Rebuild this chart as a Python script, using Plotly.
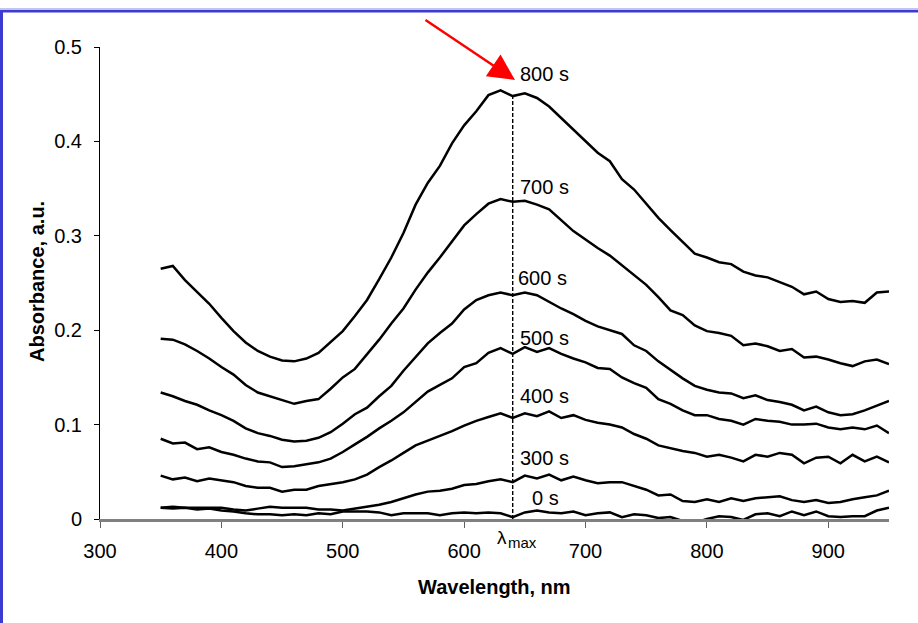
import plotly.graph_objects as go

# ---------------- data ----------------
WAVELENGTH = [350, 360, 370, 380, 390, 400, 410, 420, 430, 440,
              450, 460, 470, 480, 490, 500, 510, 520, 530, 540,
              550, 560, 570, 580, 590, 600, 610, 620, 630, 640,
              650, 660, 670, 680, 690, 700, 710, 720, 730, 740,
              750, 760, 770, 780, 790, 800, 810, 820, 830, 840,
              850, 860, 870, 880, 890, 900, 910, 920, 930, 940,
              950]

ABS_0S = [0.012, 0.011, 0.012, 0.010, 0.011, 0.009, 0.008, 0.006, 0.005, 0.005,
          0.004, 0.005, 0.004, 0.006, 0.005, 0.008, 0.008, 0.008, 0.007, 0.004,
          0.006, 0.006, 0.006, 0.004, 0.006, 0.007, 0.006, 0.007, 0.006, 0.002,
          0.007, 0.009, 0.007, 0.006, 0.008, 0.004, 0.006, 0.007, 0.002, 0.005,
          0.004, 0.001, 0.002, -0.002, -0.004, 0.000, 0.003, 0.002, -0.001, 0.005,
          0.006, 0.003, 0.008, 0.004, 0.008, 0.003, 0.002, 0.003, 0.003, 0.009,
          0.012]

ABS_300S = [0.012, 0.013, 0.012, 0.012, 0.012, 0.012, 0.010, 0.009, 0.011, 0.013,
            0.012, 0.012, 0.012, 0.010, 0.010, 0.009, 0.011, 0.013, 0.015, 0.018,
            0.022, 0.026, 0.029, 0.030, 0.032, 0.036, 0.037, 0.040, 0.042, 0.039,
            0.046, 0.043, 0.047, 0.041, 0.045, 0.041, 0.038, 0.039, 0.039, 0.035,
            0.031, 0.025, 0.026, 0.019, 0.018, 0.021, 0.018, 0.022, 0.019, 0.022,
            0.023, 0.024, 0.020, 0.018, 0.020, 0.017, 0.018, 0.021, 0.023, 0.025,
            0.030]

ABS_400S = [0.046, 0.042, 0.044, 0.040, 0.043, 0.041, 0.039, 0.035, 0.033, 0.033,
            0.029, 0.031, 0.031, 0.035, 0.037, 0.039, 0.042, 0.047, 0.055, 0.062,
            0.070, 0.078, 0.083, 0.088, 0.093, 0.099, 0.104, 0.108, 0.112, 0.107,
            0.112, 0.109, 0.114, 0.107, 0.110, 0.105, 0.102, 0.100, 0.097, 0.090,
            0.085, 0.078, 0.075, 0.072, 0.070, 0.066, 0.068, 0.065, 0.061, 0.068,
            0.066, 0.070, 0.068, 0.059, 0.065, 0.066, 0.059, 0.068, 0.061, 0.066,
            0.060]

ABS_500S = [0.085, 0.080, 0.081, 0.074, 0.076, 0.071, 0.068, 0.064, 0.061, 0.060,
            0.055, 0.056, 0.058, 0.060, 0.064, 0.071, 0.079, 0.087, 0.096, 0.104,
            0.113, 0.124, 0.135, 0.142, 0.149, 0.161, 0.165, 0.176, 0.181, 0.175,
            0.182, 0.177, 0.181, 0.175, 0.170, 0.166, 0.160, 0.159, 0.150, 0.144,
            0.139, 0.127, 0.122, 0.115, 0.110, 0.110, 0.106, 0.104, 0.100, 0.106,
            0.104, 0.103, 0.100, 0.100, 0.101, 0.097, 0.095, 0.097, 0.095, 0.099,
            0.091]

ABS_600S = [0.134, 0.130, 0.125, 0.121, 0.115, 0.110, 0.104, 0.096, 0.091, 0.088,
            0.084, 0.082, 0.083, 0.086, 0.092, 0.101, 0.111, 0.118, 0.130, 0.141,
            0.157, 0.171, 0.186, 0.197, 0.207, 0.222, 0.232, 0.237, 0.240, 0.237,
            0.240, 0.237, 0.230, 0.223, 0.217, 0.210, 0.204, 0.200, 0.196, 0.184,
            0.178, 0.167, 0.158, 0.149, 0.141, 0.137, 0.134, 0.133, 0.128, 0.131,
            0.126, 0.124, 0.121, 0.115, 0.119, 0.113, 0.110, 0.111, 0.115, 0.120,
            0.125]

ABS_700S = [0.191, 0.190, 0.185, 0.178, 0.170, 0.161, 0.153, 0.142, 0.134, 0.130,
            0.126, 0.122, 0.125, 0.127, 0.138, 0.150, 0.159, 0.174, 0.190, 0.207,
            0.223, 0.243, 0.261, 0.277, 0.294, 0.311, 0.323, 0.334, 0.339, 0.336,
            0.337, 0.333, 0.328, 0.317, 0.305, 0.296, 0.287, 0.279, 0.269, 0.258,
            0.248, 0.235, 0.221, 0.216, 0.205, 0.199, 0.197, 0.194, 0.184, 0.186,
            0.183, 0.178, 0.180, 0.171, 0.172, 0.169, 0.165, 0.162, 0.167, 0.169,
            0.164]

ABS_800S = [0.265, 0.268, 0.253, 0.240, 0.228, 0.213, 0.199, 0.187, 0.178, 0.172,
            0.168, 0.167, 0.170, 0.176, 0.188, 0.199, 0.215, 0.232, 0.254, 0.277,
            0.303, 0.333, 0.356, 0.374, 0.398, 0.417, 0.432, 0.449, 0.454, 0.448,
            0.451, 0.446, 0.437, 0.425, 0.413, 0.401, 0.388, 0.379, 0.360, 0.349,
            0.334, 0.319, 0.306, 0.294, 0.281, 0.277, 0.272, 0.270, 0.262, 0.258,
            0.256, 0.251, 0.246, 0.238, 0.241, 0.233, 0.230, 0.231, 0.229, 0.240,
            0.241]

SERIES = [ABS_0S, ABS_300S, ABS_400S, ABS_500S, ABS_600S, ABS_700S, ABS_800S]
TIME_LABELS = ["0 s", "300 s", "400 s", "500 s", "600 s", "700 s", "800 s"]

LAMBDA_MAX = 640
X_TICKS = [300, 400, 500, 600, 700, 800, 900]
Y_TICKS = [0, 0.1, 0.2, 0.3, 0.4, 0.5]

# label placement (left edge in nm, vertical centre in absorbance)
LABEL_X = [654, 644, 644, 644, 643, 644, 644]
LABEL_Y = [0.0225, 0.065, 0.130, 0.192, 0.2555, 0.352, 0.471]

# ---------------- layout geometry ----------------
W, H = 918, 623
ML, MR, MT, MB = 100, 29, 47, 104
PW, PH = W - ML - MR, H - MT - MB


def px_x(px):
    return (px - ML) / PW


def px_y(py):
    return (H - MB - py) / PH


FONT = "Liberation Sans, Arial, sans-serif"

fig = go.Figure()

for vals in SERIES:
    fig.add_trace(go.Scatter(
        x=WAVELENGTH, y=vals, mode="lines",
        line=dict(color="black", width=2.5),
        hoverinfo="skip", showlegend=False))

peak_val = ABS_800S[WAVELENGTH.index(LAMBDA_MAX)]
fig.add_trace(go.Scatter(
    x=[LAMBDA_MAX, LAMBDA_MAX], y=[0, peak_val], mode="lines",
    line=dict(color="black", width=1.4, dash="4px,2px"),
    hoverinfo="skip", showlegend=False))

annotations = []
for lab, lx, ly in zip(TIME_LABELS, LABEL_X, LABEL_Y):
    annotations.append(dict(
        x=lx, y=ly, xref="x", yref="y", text=lab, showarrow=False,
        xanchor="left", yanchor="middle",
        font=dict(family=FONT, size=20, color="black")))

# lambda max label
annotations.append(dict(
    x=px_x(495), y=px_y(537), xref="paper", yref="paper", text="λ",
    showarrow=False, xanchor="left", yanchor="middle",
    font=dict(family=FONT, size=19, color="black")))
annotations.append(dict(
    x=px_x(506), y=px_y(542), xref="paper", yref="paper", text="max",
    showarrow=False, xanchor="left", yanchor="middle",
    font=dict(family=FONT, size=15, color="black")))

# axis titles
annotations.append(dict(
    x=0.5, y=px_y(587), xref="paper", yref="paper",
    text="<b>Wavelength, nm</b>", showarrow=False,
    xanchor="center", yanchor="middle",
    font=dict(family=FONT, size=20, color="black")))
annotations.append(dict(
    x=px_x(37), y=px_y(282), xref="paper", yref="paper",
    text="<b>Absorbance, a.u.</b>", showarrow=False, textangle=-90,
    xanchor="center", yanchor="middle",
    font=dict(family=FONT, size=20, color="black")))

# red arrow
annotations.append(dict(
    x=px_x(515), y=px_y(80), xref="paper", yref="paper", text="",
    showarrow=True, arrowhead=2, arrowsize=2.1, arrowwidth=2.5,
    arrowcolor="#ff0000", ax=-91, ay=-61))

shapes = [
    # light line above the frame
    dict(type="rect", xref="paper", yref="paper",
         x0=px_x(0), x1=px_x(W), y0=px_y(10), y1=px_y(8),
         fillcolor="#c4c4f2", line=dict(width=0), layer="above"),
    # top blue bar
    dict(type="rect", xref="paper", yref="paper",
         x0=px_x(0), x1=px_x(W), y0=px_y(12.5), y1=px_y(10),
         fillcolor="#3b3bd0", line=dict(width=0), layer="above"),
    # left blue bar
    dict(type="rect", xref="paper", yref="paper",
         x0=px_x(0), x1=px_x(3), y0=px_y(H), y1=px_y(10),
         fillcolor="#3b3bd0", line=dict(width=0), layer="above"),
]

fig.update_layout(
    width=W, height=H,
    margin=dict(l=ML, r=MR, t=MT, b=MB, pad=0),
    paper_bgcolor="white", plot_bgcolor="white",
    font=dict(family=FONT, size=20, color="black"),
    showlegend=False,
    annotations=annotations,
    shapes=shapes,
    xaxis=dict(
        range=[300, 950], tickmode="array", tickvals=X_TICKS,
        ticktext=[str(v) for v in X_TICKS],
        showgrid=False, zeroline=False,
        showline=True, linecolor="#808080", linewidth=2.7,
        ticks="outside", ticklen=6, tickwidth=1, tickcolor="#606060",
        tickfont=dict(family=FONT, size=20, color="black"),
        ticklabelstandoff=6),
    yaxis=dict(
        range=[0, 0.5], tickmode="array", tickvals=Y_TICKS,
        ticktext=["0", "0.1", "0.2", "0.3", "0.4", "0.5"],
        showgrid=False, zeroline=False,
        showline=True, linecolor="black", linewidth=1,
        ticks="outside", ticklen=5, tickwidth=1, tickcolor="black",
        tickfont=dict(family=FONT, size=20, color="black"),
        ticklabelstandoff=8),
)

fig.write_html("out.html")
